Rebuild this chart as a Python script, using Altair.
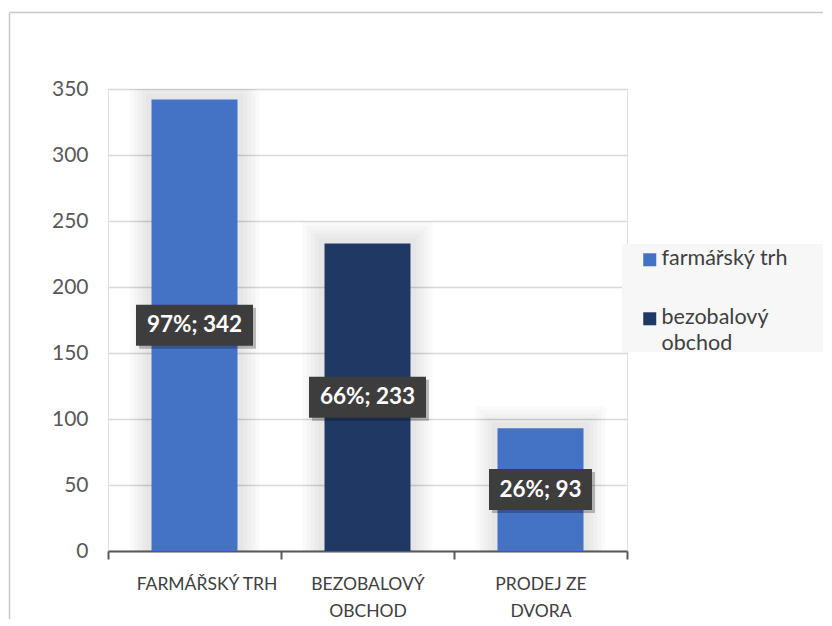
import altair as alt
import pandas as pd

categories = ["FARMÁŘSKÝ TRH", "BEZOBALOVÝ OBCHOD", "PRODEJ ZE DVORA"]
values = [342, 233, 93]
percents = [97, 66, 26]
series = ["farmářský trh", "bezobalový obchod", "farmářský trh"]
legend_order = ["farmářský trh", "bezobalový obchod"]
y_ticks = [0, 50, 100, 150, 200, 250, 300, 350]

df = pd.DataFrame({"category": categories, "value": values,
                   "pct": percents, "series": series})
df["label"] = [f"{p}%; {v}" for p, v in zip(percents, values)]
df["mid"] = df["value"] / 2

FONT = "Lato"
W, H = 519, 462

base = alt.Chart(df)

x_enc = alt.X("category:N", sort=categories, title=None,
              scale=alt.Scale(paddingInner=0, paddingOuter=0),
              axis=alt.Axis(tickBand="extent", labelAngle=0, domainColor="#595959",
                            domainWidth=2, tickColor="#595959", tickWidth=2, tickSize=8,
                            labelColor="#404040", labelFont=FONT, labelFontSize=17.5,
                            labelPadding=16, labelLineHeight=27,
                            labelOffset={"condition": {"test": "datum.value == 'FARMÁŘSKÝ TRH'", "value": 12},
                                         "value": 0},
                            labelExpr="length(datum.label) > 14 ? [substring(datum.label, 0, lastindexof(datum.label, ' ')), substring(datum.label, lastindexof(datum.label, ' ') + 1)] : datum.label",
                            grid=False))
y_scale = alt.Scale(domain=[0, 350], nice=False)
y_enc = alt.Y("value:Q", scale=y_scale, title=None,
              axis=alt.Axis(values=y_ticks, domain=False, ticks=False, labelColor="#595959",
                            labelFont=FONT, labelFontSize=21, labelPadding=20,
                            gridColor="#D9D9D9", gridWidth=1.5))

one = alt.Data(values=[{}])

border_v = alt.Chart(one).mark_rule(color="#C8C8C8", strokeWidth=1.5).encode(
    x=alt.value(-98.5), y=alt.value(-76.5), y2=alt.value(600))
border_h = alt.Chart(one).mark_rule(color="#C8C8C8", strokeWidth=1.5).encode(
    x=alt.value(-98.5), x2=alt.value(760), y=alt.value(-76.5))
legend_bg = alt.Chart(one).mark_rect(color="#F7F7F7").encode(
    x=alt.value(514), x2=alt.value(760), y=alt.value(155), y2=alt.value(263))

glows = []
for sw in [44, 36, 28, 20, 12]:
    glows.append(base.mark_bar(width=86, fillOpacity=0, stroke="black",
                               strokeOpacity=0.018, strokeWidth=sw, clip=True).encode(
        x=x_enc, y=alt.Y("value:Q", scale=y_scale)))

legend_symbol = "M-1,0.85H1V2.85H-1Z"

bars = base.mark_bar(width=86).encode(
    x=x_enc, y=y_enc,
    color=alt.Color("series:N", scale=alt.Scale(domain=legend_order, range=["#4472C4", "#203864"]),
                    legend=alt.Legend(title=None, orient="none", legendX=531, legendY=148,
                                      symbolType=legend_symbol, symbolSize=169, symbolStrokeWidth=0,
                                      labelFont=FONT, labelFontSize=21.5, labelColor="#404040",
                                      labelOffset=1, labelBaseline="top",
                                      rowPadding=26, padding=0,
                                      labelExpr="length(datum.label) > 14 ? split(datum.label, ' ') : datum.label"))
)

box_path = "M-2.854,-1H2.854V1H-2.854Z"
box_path_small = "M-2.512,-1H2.512V1H-2.512Z"
shape_cond = alt.condition(alt.datum.category == "PRODEJ ZE DVORA",
                           alt.value(box_path_small), alt.value(box_path))

box_shadow = base.mark_point(filled=True, color="black", opacity=0.25, size=1681,
                             xOffset=3, yOffset=3).encode(
    x=alt.X("category:N", sort=categories), y=alt.Y("mid:Q", scale=y_scale), shape=shape_cond)
box = base.mark_point(filled=True, color="#3D3D3D", opacity=1, size=1681).encode(
    x=alt.X("category:N", sort=categories), y=alt.Y("mid:Q", scale=y_scale), shape=shape_cond)
text = base.mark_text(font=FONT, fontSize=22.5, fontWeight="bold", color="white").encode(
    x=alt.X("category:N", sort=categories), y=alt.Y("mid:Q", scale=y_scale), text="label:N")

chart = alt.layer(border_v, border_h, legend_bg, *glows, bars, box_shadow, box, text).properties(
    width=W, height=H,
    autosize=alt.AutoSizeParams(type="none"),
    padding={"left": 100, "top": 81, "right": 196, "bottom": 68},
).configure_view(stroke=None).configure(
    background="white",
    style={"guide-label": {"lineHeight": 26}},
)

chart.save("out.html", embed_options={"renderer": "svg", "actions": False})
